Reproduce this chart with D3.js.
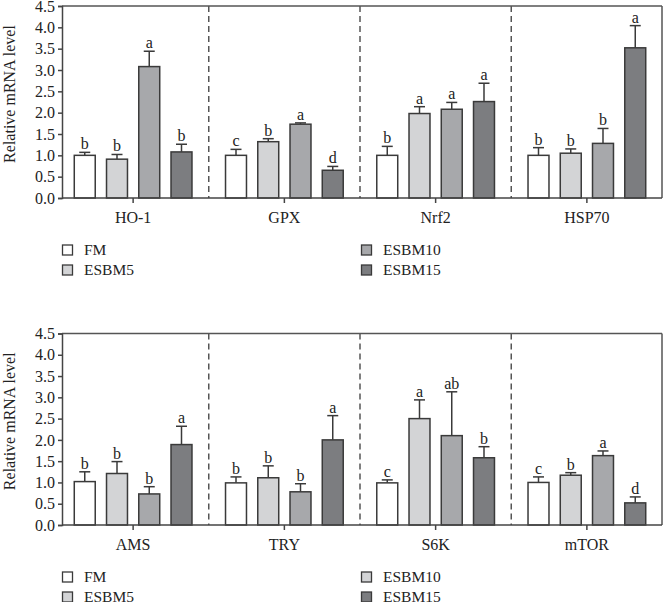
<!DOCTYPE html>
<html>
<head>
<meta charset="utf-8">
<script src="https://cdn.jsdelivr.net/npm/d3@7"></script>
<style>
  html, body { margin: 0; padding: 0; background: #fff; }
  svg { display: block; }
  text { font-family: "Liberation Serif", "DejaVu Serif", serif; fill: #222; }
</style>
</head>
<body>
<svg id="chart" width="664" height="602"></svg>
<script>
// ---------- data ----------
const seriesNames = ["FM", "ESBM5", "ESBM10", "ESBM15"];
const yTicks = [0, 0.5, 1.0, 1.5, 2.0, 2.5, 3.0, 3.5, 4.0, 4.5];

const topGenes = ["HO-1", "GPX", "Nrf2", "HSP70"];
const topMeans = [
  [1.00, 0.91, 3.08, 1.08],
  [1.00, 1.32, 1.73, 0.65],
  [1.00, 1.98, 2.08, 2.26],
  [1.00, 1.05, 1.28, 3.52]
];
const topErrors = [
  [0.07, 0.11, 0.36, 0.18],
  [0.14, 0.07, 0.03, 0.09],
  [0.21, 0.16, 0.16, 0.43],
  [0.18, 0.10, 0.35, 0.52]
];
const topLetters = [
  ["b", "b", "a", "b"],
  ["c", "b", "a", "d"],
  ["b", "a", "a", "a"],
  ["b", "b", "b", "a"]
];

const bottomGenes = ["AMS", "TRY", "S6K", "mTOR"];
const bottomMeans = [
  [1.02, 1.21, 0.73, 1.89],
  [0.99, 1.11, 0.78, 2.00],
  [0.99, 2.50, 2.10, 1.58],
  [1.00, 1.17, 1.63, 0.52]
];
const bottomErrors = [
  [0.23, 0.28, 0.17, 0.43],
  [0.14, 0.28, 0.19, 0.57],
  [0.07, 0.44, 1.03, 0.26],
  [0.13, 0.06, 0.11, 0.14]
];
const bottomLetters = [
  ["b", "b", "b", "a"],
  ["b", "b", "b", "a"],
  ["c", "a", "ab", "b"],
  ["c", "b", "a", "d"]
];

// ---------- styles ----------
const barColors = ["#ffffff", "#d3d4d6", "#a7a8ab", "#7c7d80"];
const topLegendColors = ["#ffffff", "#d3d4d6", "#a7a8ab", "#7c7d80"];
const bottomLegendColors = ["#ffffff", "#d3d4d6", "#d3d4d6", "#7c7d80"];
const strokeCol = "#3a3a3a";
const FONT = 16;

const svg = d3.select("#chart");

const x0 = d3.scaleBand().domain([0, 1, 2, 3]).range([57.5, 662.5]).padding(0);
const x1 = d3.scaleBand().domain(seriesNames).range([0, x0.bandwidth()])
  .paddingInner(0.35).paddingOuter(0.52);

function drawPanel(genes, means, errors, letters, legendColors, yBottom, yTop) {
  const g = svg.append("g");
  const y = d3.scaleLinear().domain([0, 4.5]).range([yBottom, yTop]);
  const axisX = 62, rightX = 662;

  // frame: top + right
  g.append("line").attr("x1", axisX).attr("x2", rightX).attr("y1", y(4.5)).attr("y2", y(4.5))
    .attr("stroke", "#555").attr("stroke-width", 1.5);
  g.append("line").attr("x1", rightX).attr("x2", rightX).attr("y1", y(4.5)).attr("y2", y(0))
    .attr("stroke", "#555").attr("stroke-width", 1.5);

  // dashed dividers
  for (let i = 1; i < genes.length; i++) {
    const xd = x0(i);
    g.append("line").attr("x1", xd).attr("x2", xd).attr("y1", y(4.5)).attr("y2", y(0))
      .attr("stroke", "#555").attr("stroke-width", 1.5).attr("stroke-dasharray", "6,4");
  }

  // bars
  genes.forEach((gene, gi) => {
    const grp = g.append("g").attr("transform", `translate(${x0(gi)},0)`);
    seriesNames.forEach((s, si) => {
      const v = means[gi][si], e = errors[gi][si];
      const bx = x1(s), bw = x1.bandwidth(), cx = bx + bw / 2;
      // error bar (upper only)
      grp.append("line").attr("x1", cx).attr("x2", cx).attr("y1", y(v)).attr("y2", y(v + e))
        .attr("stroke", strokeCol).attr("stroke-width", 1.5);
      grp.append("line").attr("x1", cx - 5.5).attr("x2", cx + 5.5).attr("y1", y(v + e)).attr("y2", y(v + e))
        .attr("stroke", strokeCol).attr("stroke-width", 1.5);
      grp.append("rect").attr("x", bx).attr("y", y(v)).attr("width", bw).attr("height", y(0) - y(v))
        .attr("fill", barColors[si]).attr("stroke", strokeCol).attr("stroke-width", 1.5);
      grp.append("text").attr("x", cx).attr("y", y(v + e) - 3).attr("text-anchor", "middle")
        .attr("font-size", FONT).text(letters[gi][si]);
    });
  });

  // y axis
  const yAxis = d3.axisLeft(y).tickValues(yTicks).tickFormat(d3.format(".1f")).tickSize(4).tickPadding(3);
  const ya = g.append("g").attr("transform", `translate(${axisX},0)`).call(yAxis);
  ya.select(".domain").attr("stroke", "#444").attr("stroke-width", 1.5);
  ya.selectAll(".tick line").attr("stroke", "#444").attr("stroke-width", 1.5);
  ya.selectAll("text").attr("font-size", FONT).attr("font-family", "Liberation Serif").attr("fill", "#222");

  // x axis line
  g.append("line").attr("x1", axisX).attr("x2", rightX).attr("y1", y(0)).attr("y2", y(0))
    .attr("stroke", "#444").attr("stroke-width", 1.5);
  genes.forEach((gene, gi) => {
    const cx = x0(gi) + x0.bandwidth() / 2;
    g.append("line").attr("x1", cx).attr("x2", cx).attr("y1", y(0)).attr("y2", y(0) + 5)
      .attr("stroke", "#444").attr("stroke-width", 1.5);
    g.append("text").attr("x", cx).attr("y", y(0) + 25).attr("text-anchor", "middle")
      .attr("font-size", FONT).text(gene);
  });

  // y label
  const midY = (y(0) + y(4.5)) / 2 - 8;
  g.append("text").attr("transform", `translate(15,${midY}) rotate(-90)`)
    .attr("text-anchor", "middle").attr("font-size", FONT).text("Relative mRNA level");

  // legend
  const legPos = [[62, 0], [62, 1], [361, 0], [361, 1]];
  seriesNames.forEach((s, si) => {
    const [lx, row] = legPos[si];
    const ly = y(0) + 47 + row * 20;
    g.append("rect").attr("x", lx + 0.5).attr("y", ly).attr("width", 10).attr("height", 10)
      .attr("fill", legendColors[si]).attr("stroke", strokeCol).attr("stroke-width", 1.3);
    g.append("text").attr("x", lx + 22).attr("y", ly + 10).attr("font-size", FONT - 0.5).text(s);
  });
}

drawPanel(topGenes, topMeans, topErrors, topLetters, topLegendColors, 198, 6);
drawPanel(bottomGenes, bottomMeans, bottomErrors, bottomLetters, bottomLegendColors, 525, 333.5);
</script>
</body>
</html>
